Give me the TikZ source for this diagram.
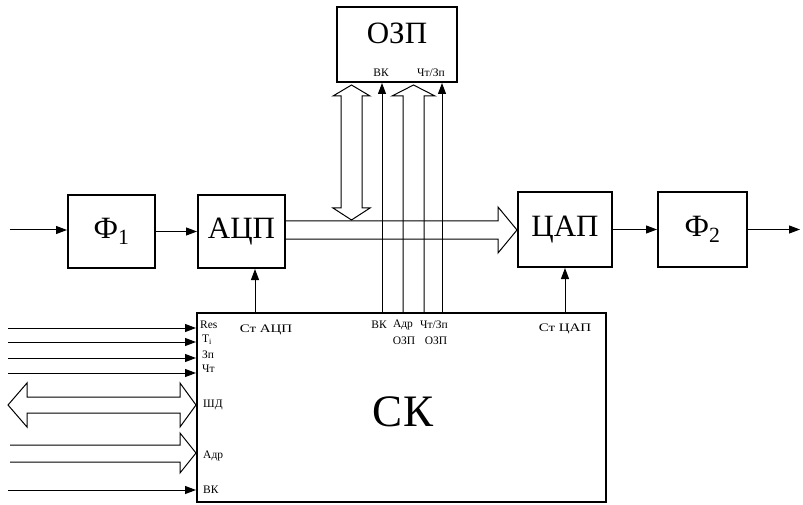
\documentclass[tikz,border=0pt]{standalone}
\usepackage{fontspec}
\setmainfont{Liberation Serif}
\newfontfamily\widefont[FakeStretch=1.3]{Liberation Serif}
\usepackage{tikz}
\usetikzlibrary{arrows.meta}

\begin{document}
\begin{tikzpicture}[x=1pt, y=-1pt,
    blk/.style={draw, line width=2pt, inner sep=0pt, font=\fontsize{31}{34}\selectfont},
    lbl/.style={inner sep=0pt, font=\fontsize{11.5}{12}\selectfont},
    stlbl/.style={inner sep=0pt, font=\widefont\fontsize{11.5}{12}\selectfont},
    sig/.style={line width=1pt, -{Triangle[length=11pt,width=8pt]}},
    bus/.style={line width=1pt, line join=miter}]
      \useasboundingbox (0,0) rectangle (803,505);
      % blocks
      \node[blk, minimum width=87pt, minimum height=73pt] (f1) at (111.5,231.5) {Ф\textsubscript{1}};
      \node[blk, minimum width=87pt, minimum height=73pt] (adc) at (241.5,231.5) {АЦП};
      \node[blk, minimum width=94pt, minimum height=75pt] (dac) at (565,229.5) {ЦАП};
      \node[blk, minimum width=89pt, minimum height=75pt] (f2) at (702.5,229.5) {Ф\textsubscript{2}};
      \node[blk, minimum width=120pt, minimum height=75pt] (ram) at (397,44.5) {};
      \node[inner sep=0pt, font=\fontsize{31}{34}\selectfont] (ramname) at (397,33) {ОЗП};
      \node[blk, minimum width=409pt, minimum height=189pt] (sk) at (401.5,407.5) {};
      \node[inner sep=0pt, font=\fontsize{45}{50}\selectfont] (skname) at (403,412) {СК};
      % signal path
      \coordinate (in) at (10,230);
      \coordinate (out) at (800,229.5);
      \draw[sig] (in) -- (in -| f1.west);
      \draw[sig] (f1) -- (adc);
      \draw[sig] (dac) -- (f2);
      \draw[sig] (f2) -- (out);
      % strobes
      \coordinate (stadc) at (255,313);
      \draw[sig] (stadc) -- (stadc |- adc.south);
      \draw[sig] (dac.south |- sk.north) -- (dac.south);
      % data bus adc -> dac
      \draw[bus] (adc.east |- 0,221) -- (498,221) -- (498,207) -- (dac.west |- 0,230)
            -- (498,253) -- (498,239) -- (adc.east |- 0,239);
      % data bus ram <-> bus
      \draw[bus] (341,208) -- (341,96) -- (333,96) -- (351.5,85) -- (370,96) -- (362,96)
            -- (362,208) -- (370,208) -- (351.5,220) -- (333,208) -- cycle;
      % address bus and control lines to ram
      \draw[bus] (403,313) -- (403,96) -- (392,96) -- (413.5,85) -- (435,96) -- (424,96) -- (424,313);
      \coordinate (vk) at (382,313);
      \coordinate (rw) at (442,313);
      \draw[sig] (vk) -- (vk |- ram.south);
      \draw[sig] (rw) -- (rw |- ram.south);
      \node[lbl] (rvk) at (381,73) {ВК};
      \node[lbl] (rrw) at (431,73) {Чт/Зп};
      % inputs of sk
      \foreach \y in {328,342,358,373,490}
        \draw[sig] (8,\y) -- (sk.west |- 0,\y);
      \draw[bus] (27,397) -- (180,397) -- (180,383) -- (sk.west |- 0,405) -- (180,427) -- (180,413)
            -- (27,413) -- (27,427) -- (8,405) -- (27,383) -- cycle;
      \draw[bus] (10,445) -- (180,445) -- (180,433) -- (sk.west |- 0,453) -- (180,473) -- (180,462) -- (10,462);
      % labels of sk
      \node[lbl, anchor=west] (lres) at (200,325) {Res};
      \node[lbl, anchor=west] (lti) at (202,340) {T\textsubscript{i}};
      \node[lbl, anchor=west] (lwr) at (202,355) {Зп};
      \node[lbl, anchor=west] (lrd) at (202,369) {Чт};
      \node[lbl, anchor=west] (lsd) at (203,405) {ШД};
      \node[lbl, anchor=west] (ladr) at (203,456) {Адр};
      \node[lbl, anchor=west] (lvk) at (203,490) {ВК};
      \node[stlbl] (lstadc) at (266,330) {Ст АЦП};
      \node[stlbl] (lstdac) at (565,329) {Ст ЦАП};
      \node[lbl] (svk) at (379,325) {ВК};
      \node[lbl] (sadr) at (403,325) {Адр};
      \node[lbl] (srw) at (434,325) {Чт/Зп};
      \node[lbl] (sram1) at (404,341) {ОЗП};
      \node[lbl] (sram2) at (436,341) {ОЗП};
\end{tikzpicture}
\end{document}
